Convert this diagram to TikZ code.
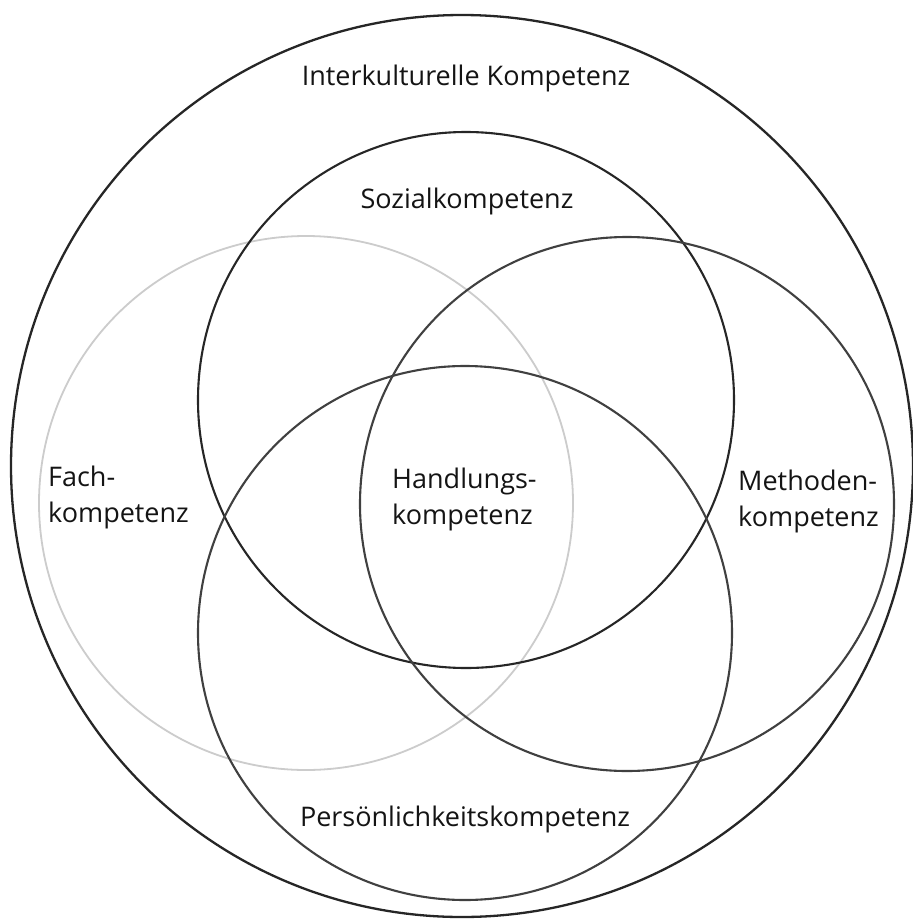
\documentclass[tikz,border=0pt]{standalone}
\usepackage{fontspec}
\setmainfont{Open Sans}
\begin{document}
\begin{tikzpicture}[x=1pt,y=-1pt,
  ring/.style={draw=black!85,line width=2.1pt},
  faint/.style={draw=black!20,line width=1.8pt},
  lbl/.style={font=\fontsize{27}{36}\selectfont,inner sep=0pt,text=black!92},
  lblml/.style={lbl,align=left,anchor=west}]
\useasboundingbox[fill=white] (0,0) rectangle (913,919);
\coordinate (outer) at (462,466);
\coordinate (sozial) at (466,400);
\coordinate (fach) at (306,503);
\coordinate (methoden) at (627,504);
\coordinate (pers) at (465,633);
\draw[faint] (fach) circle[radius=267];
\draw[ring,line width=2.3pt] (outer) circle[radius=451];
\draw[ring] (sozial) circle[radius=268];
\draw[ring,draw=black!75] (methoden) circle[radius=267];
\draw[ring,draw=black!75] (pers) circle[radius=267];
\node[lbl] (t-ik) at (466,78) {Interkulturelle Kompetenz};
\node[lbl] (t-soz) at (467,201) {Sozialkompetenz};
\node[lblml] (t-fach) at (48,497) {Fach-\\kompetenz};
\node[lblml] (t-hand) at (392,499) {Handlungs-\\kompetenz};
\node[lblml] (t-meth) at (738,501) {Methoden-\\kompetenz};
\node[lbl] (t-pers) at (465,819) {Persönlichkeitskompetenz};
\end{tikzpicture}
\end{document}
